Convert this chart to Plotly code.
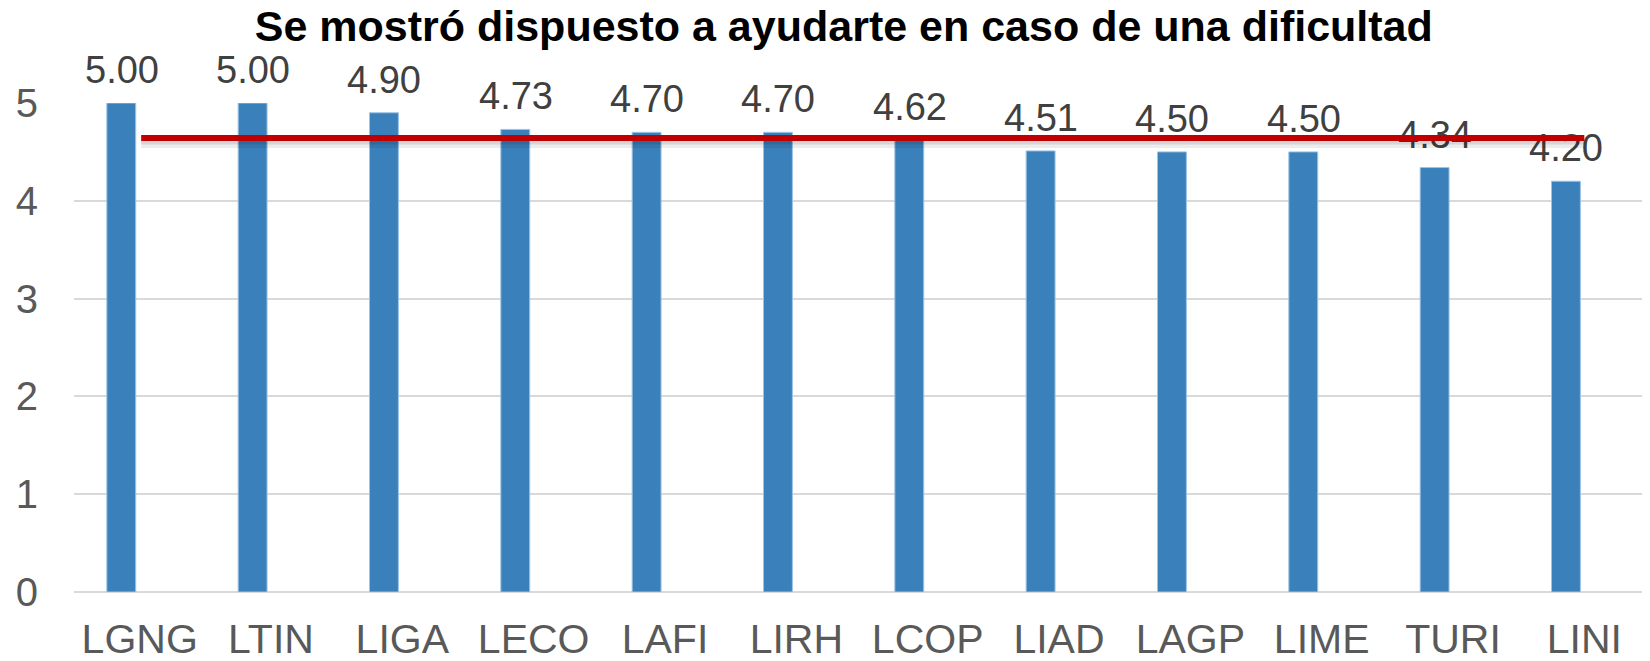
import plotly.graph_objects as go

categories = ["LGNG", "LTIN", "LIGA", "LECO", "LAFI", "LIRH", "LCOP", "LIAD", "LAGP", "LIME", "TURI", "LINI"]
scores = [5.00, 5.00, 4.90, 4.73, 4.70, 4.70, 4.62, 4.51, 4.50, 4.50, 4.34, 4.20]
y_ticks = [0, 1, 2, 3, 4, 5]

mean_score = sum(scores) / len(scores)
font_family = "Arial, Liberation Sans, sans-serif"

# bars sit left of the category centre, like an excel cluster with an empty 2nd series
bar_width = 0.22
bar_offset = -0.25
label_xshift = -18

fig = go.Figure()

fig.add_trace(
    go.Bar(
        x=categories,
        y=scores,
        width=bar_width,
        offset=bar_offset,
        marker=dict(color="#3A80BA", line=dict(color="#9DC3E6", width=1)),
        showlegend=False,
        hoverinfo="x+y",
    )
)

for cat, val in zip(categories, scores):
    fig.add_annotation(
        x=cat,
        y=val,
        text=f"{val:.2f}",
        showarrow=False,
        yanchor="bottom",
        xshift=label_xshift,
        yshift=10,
        font=dict(size=38, color="#404040", family=font_family),
    )

# average line (drawn as annotation arrows so it sits over the value labels)
for dy, color, width in [(-0.05, "rgba(0,0,0,0.07)", 10), (-0.04, "rgba(0,0,0,0.09)", 5), (0, "#C00000", 6)]:
    fig.add_annotation(
        x=categories[-1], y=mean_score + dy,
        ax=categories[0], ay=mean_score + dy,
        xref="x", yref="y", axref="x", ayref="y",
        text="",
        showarrow=True,
        arrowhead=0,
        arrowwidth=width,
        arrowcolor=color,
        standoff=0,
        startstandoff=0,
    )

# the page body adds an 8px margin, so the figure is 8px smaller each way
fig.update_layout(
    title=dict(
        text="<b>Se mostró dispuesto a ayudarte en caso de una dificultad</b>",
        x=0.509,
        xanchor="center",
        y=0.973,
        yanchor="middle",
        font=dict(size=43, color="#000000", family=font_family),
    ),
    width=1642,
    height=653,
    paper_bgcolor="white",
    plot_bgcolor="white",
    margin=dict(l=66, r=0, t=95, b=69),
)

fig.update_xaxes(
    type="category",
    range=[-0.5, len(categories) - 0.5],
    tickfont=dict(size=41, color="#595959", family=font_family),
    showgrid=False,
    showline=False,
    ticks="",
    automargin=False,
    ticklabelstandoff=19,
)

fig.update_yaxes(
    range=[0, 5],
    tickvals=y_ticks,
    tickfont=dict(size=40, color="#595959", family=font_family),
    gridcolor="#D9D9D9",
    gridwidth=1.5,
    zeroline=True,
    zerolinecolor="#D9D9D9",
    zerolinewidth=2,
    showline=False,
    ticks="",
    automargin=False,
    ticklabelstandoff=35,
)

fig.write_html("out.html")
